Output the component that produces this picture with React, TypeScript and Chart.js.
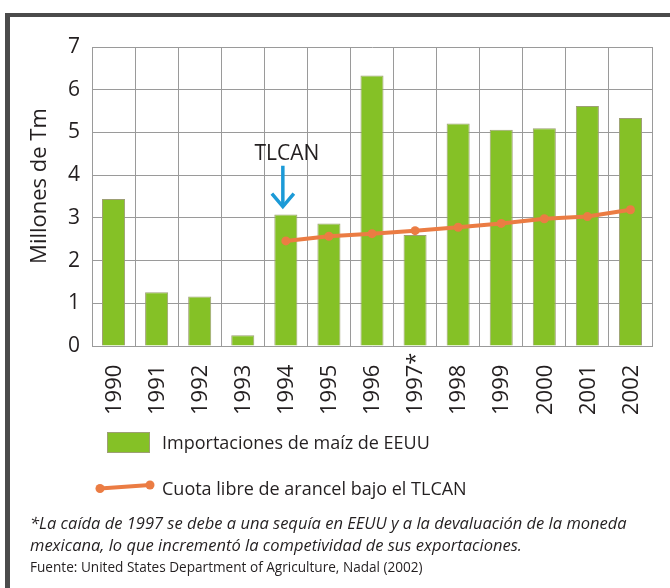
import React, { useEffect, useRef } from "react";
import { Chart, registerables } from "chart.js";

Chart.register(...registerables);

const years = ["1990", "1991", "1992", "1993", "1994", "1995", "1996", "1997*", "1998", "1999", "2000", "2001", "2002"];
const imports = [3.44, 1.26, 1.16, 0.25, 3.08, 2.87, 6.33, 2.6, 5.21, 5.06, 5.1, 5.62, 5.34];
const quota = [null, null, null, null, 2.46, 2.57, 2.63, 2.7, 2.78, 2.87, 2.98, 3.03, 3.19];
const yTicks = [0, 1, 2, 3, 4, 5, 6, 7];
const yTitle = "Millones de Tm";

const annotationIndex = 4;
const annotationLabel = "TLCAN";
const annotationTextValue = 4.5;
const arrowFromValue = 4.22;
const arrowToValue = 3.24;

const legendBars = "Importaciones de maíz de EEUU";
const legendLine = "Cuota libre de arancel bajo el TLCAN";
const noteLines = [
  "*La caída de 1997 se debe a una sequía en EEUU y a la devaluación de la moneda",
  "mexicana, lo que incrementó la competividad de sus exportaciones.",
];
const sourceLine = "Fuente: United States Department of Agriculture, Nadal (2002)";

const GREEN = "#85c126";
const GREEN_BORDER = "#9d9f74";
const ORANGE = "#eb7c43";
const BLUE = "#1b9ad7";
const GRID = "#9a9a9a";
const TEXT = "#231f20";
const FONT = "'Open Sans', sans-serif";

const textPlugin = {
  id: "chartTexts",
  afterDatasetsDraw(chart: any) {
    const { ctx, scales, chartArea } = chart;
    const xs = scales.x;
    const ys = scales.y;
    ctx.save();
    ctx.fillStyle = TEXT;

    // y-axis title
    ctx.save();
    ctx.font = `22px ${FONT}`;
    ctx.textAlign = "center";
    ctx.textBaseline = "middle";
    ctx.translate(40, chartArea.top + (chartArea.bottom - chartArea.top) * 0.465);
    ctx.rotate(-Math.PI / 2);
    ctx.fillText(yTitle, 0, 0);
    ctx.restore();

    // x tick labels, rotated, aligned at their start (bottom)
    ctx.font = `22px ${FONT}`;
    ctx.textAlign = "left";
    ctx.textBaseline = "middle";
    years.forEach((label, i) => {
      const x = xs.getPixelForValue(i);
      ctx.save();
      ctx.translate(x + 1, chartArea.bottom + 69);
      ctx.rotate(-Math.PI / 2);
      ctx.fillText(label, 0, 0);
      ctx.restore();
    });

    // TLCAN annotation
    const cx = xs.getPixelForValue(annotationIndex);
    const ax = cx - 3;
    const yText = ys.getPixelForValue(annotationTextValue);
    const yFrom = ys.getPixelForValue(arrowFromValue);
    const yTo = ys.getPixelForValue(arrowToValue);
    ctx.font = `21px ${FONT}`;
    ctx.textAlign = "center";
    ctx.textBaseline = "middle";
    ctx.fillText(annotationLabel, cx + 1, yText);
    ctx.strokeStyle = BLUE;
    ctx.lineWidth = 3.5;
    ctx.lineCap = "butt";
    ctx.beginPath();
    ctx.moveTo(ax, yFrom);
    ctx.lineTo(ax, yTo - 2);
    ctx.stroke();
    ctx.beginPath();
    ctx.moveTo(ax - 11, yTo - 14);
    ctx.lineTo(ax, yTo - 1);
    ctx.lineTo(ax + 11, yTo - 14);
    ctx.stroke();
    ctx.restore();
  },
};

export default function App() {
  const ref = useRef<HTMLCanvasElement | null>(null);

  useEffect(() => {
    if (!ref.current) return;
    const chart = new Chart(ref.current, {
      type: "bar",
      data: {
        labels: years,
        datasets: [
          {
            type: "line",
            label: legendLine,
            data: quota as any,
            borderColor: ORANGE,
            backgroundColor: ORANGE,
            borderWidth: 4,
            pointRadius: 4.5,
            pointBackgroundColor: ORANGE,
            pointBorderWidth: 0,
            tension: 0,
            order: 0,
          } as any,
          {
            type: "bar",
            label: legendBars,
            data: imports,
            backgroundColor: GREEN,
            borderColor: GREEN_BORDER,
            borderWidth: 1,
            barPercentage: 0.535,
            categoryPercentage: 1,
            order: 1,
          },
        ],
      },
      options: {
        responsive: false,
        animation: false,
        events: [],
        layout: { padding: { left: 0, top: 47, right: 18, bottom: 167 } },
        plugins: { legend: { display: false }, tooltip: { enabled: false } },
        scales: {
          x: {
            grid: { color: GRID, lineWidth: 1, drawTicks: false, offset: true },
            border: { color: GRID, width: 1 },
            ticks: { display: false, autoSkip: false },
            afterFit(scale: any) {
              scale.height = 75;
            },
          },
          y: {
            min: 0,
            max: 7,
            afterBuildTicks(scale: any) {
              scale.ticks = yTicks.map((v) => ({ value: v }));
            },
            grid: { color: GRID, lineWidth: 1, drawTicks: false },
            border: { color: GRID, width: 1 },
            ticks: {
              color: TEXT,
              font: { family: FONT, size: 21 },
              padding: 12,
            },
            afterFit(scale: any) {
              scale.width = 92;
            },
          },
        },
      },
      plugins: [textPlugin],
    });
    return () => chart.destroy();
  }, []);

  const textStyle: React.CSSProperties = {
    position: "absolute",
    fontFamily: FONT,
    color: TEXT,
    whiteSpace: "nowrap",
    lineHeight: "22px",
  };

  return (
    <div style={{ position: "absolute", left: 0, top: 0, width: 670, height: 588, overflow: "hidden", background: "#fff" }}>
      <div
        style={{
          position: "absolute",
          left: 5,
          top: 13,
          width: 700,
          height: 600,
          borderTop: "4px solid #4b4b4b",
          borderLeft: "5px solid #4b4b4b",
          boxSizing: "border-box",
        }}
      />
      <canvas ref={ref} width={670} height={588} style={{ position: "absolute", left: 0, top: 0, width: 670, height: 588 }} />
      <div
        style={{
          position: "absolute",
          left: 107,
          top: 432,
          width: 43,
          height: 21,
          background: GREEN,
          border: `1px solid ${GREEN_BORDER}`,
          boxSizing: "border-box",
        }}
      />
      <div style={{ ...textStyle, left: 162, top: 431, fontSize: 18 }}>{legendBars}</div>
      <svg style={{ position: "absolute", left: 0, top: 0 }} width={670} height={588}>
        <line x1={100} y1={488.5} x2={150} y2={485} stroke={ORANGE} strokeWidth={4} />
        <circle cx={100} cy={488.5} r={4.5} fill={ORANGE} />
        <circle cx={150} cy={485} r={4.5} fill={ORANGE} />
      </svg>
      <div style={{ ...textStyle, left: 162, top: 477, fontSize: 18 }}>{legendLine}</div>
      <div style={{ ...textStyle, left: 30, top: 512, fontSize: 16.5, fontStyle: "italic" }}>
        {noteLines.map((l, i) => (
          <div key={i}>{l}</div>
        ))}
      </div>
      <div style={{ ...textStyle, left: 30, top: 556, fontSize: 13.6 }}>{sourceLine}</div>
    </div>
  );
}
